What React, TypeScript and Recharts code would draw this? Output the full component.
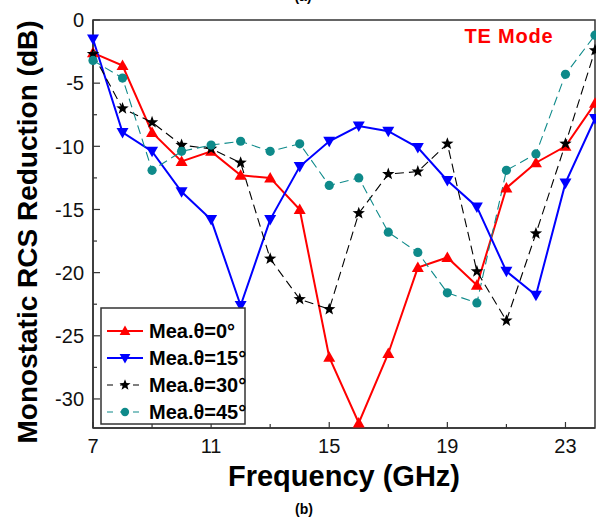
import React from 'react'
import { LineChart, Line, XAxis, YAxis, Legend, ReferenceArea } from 'recharts'

const freq = [7, 8, 9, 10, 11, 12, 13, 14, 15, 16, 17, 18, 19, 20, 21, 22, 23, 24]
const mea0 = [-2.6, -3.6, -8.9, -11.2, -10.4, -12.3, -12.5, -15.0, -26.7, -31.9, -26.4, -19.6, -18.8, -21.0, -13.3, -11.3, -10.0, -6.6]
const mea15 = [-1.5, -8.9, -10.4, -13.6, -15.8, -22.6, -15.8, -11.6, -9.6, -8.4, -8.8, -10.1, -12.7, -14.8, -19.9, -21.8, -12.9, -7.8]
const mea30 = [-2.7, -7.0, -8.1, -9.9, -10.2, -11.3, -18.9, -22.1, -22.9, -15.3, -12.2, -12.0, -9.8, -19.9, -23.8, -16.9, -9.8, -2.4]
const mea45 = [-3.2, -4.6, -11.9, -10.4, -9.9, -9.6, -10.4, -9.8, -13.1, -12.5, -16.8, -18.4, -21.6, -22.4, -11.9, -10.6, -4.3, -1.2]

const xTicks = [7, 9, 11, 13, 15, 17, 19, 21, 23]
const xLabels = [7, 11, 15, 19, 23]
const yTicks = [0, -2.5, -5, -7.5, -10, -12.5, -15, -17.5, -20, -22.5, -25, -27.5, -30]
const yLabels = [0, -5, -10, -15, -20, -25, -30]

const data = freq.map((f, i) => ({ f, m0: mea0[i], m15: mea15[i], m30: mea30[i], m45: mea45[i] }))

type Shape = 'up' | 'down' | 'star' | 'circle'

const series: { key: string; name: string; color: string; width: number; dash?: string; shape: Shape }[] = [
  { key: 'm0', name: 'Mea.\u03b8=0\u00b0', color: '#ff0000', width: 2, shape: 'up' },
  { key: 'm15', name: 'Mea.\u03b8=15\u00b0', color: '#0000ff', width: 2, shape: 'down' },
  { key: 'm30', name: 'Mea.\u03b8=30\u00b0', color: '#000000', width: 1.1, dash: '9 5', shape: 'star' },
  { key: 'm45', name: 'Mea.\u03b8=45\u00b0', color: '#0e8a8a', width: 1.1, dash: '9 5', shape: 'circle' },
]

const FONT = '"Liberation Sans", Arial, sans-serif'
const FRAME = '#333'

function Marker({ shape, cx, cy, color, s = 1 }: { shape: Shape; cx: number; cy: number; color: string; s?: number }) {
  if (cx == null || cy == null) return null
  if (shape === 'up') {
    const pts = `${cx},${cy - 6 * s} ${cx - 6 * s},${cy + 4.5 * s} ${cx + 6 * s},${cy + 4.5 * s}`
    return <polygon points={pts} fill={color} />
  }
  if (shape === 'down') {
    const pts = `${cx},${cy + 6 * s} ${cx - 6 * s},${cy - 4.5 * s} ${cx + 6 * s},${cy - 4.5 * s}`
    return <polygon points={pts} fill={color} />
  }
  if (shape === 'star') {
    const p: string[] = []
    for (let k = 0; k < 10; k++) {
      const r = (k % 2 === 0 ? 6.5 : 2.7) * s
      const a = -Math.PI / 2 + (k * Math.PI) / 5
      p.push(`${cx + r * Math.cos(a)},${cy + r * Math.sin(a)}`)
    }
    return <polygon points={p.join(' ')} fill={color} />
  }
  return <circle cx={cx} cy={cy} r={4.6 * s} fill={color} />
}

function XTick({ x, y, payload }: any) {
  const major = xLabels.includes(payload.value)
  return (
    <g>
      <line x1={x} x2={x} y1={y} y2={y - (major ? 6 : 4)} stroke={FRAME} strokeWidth={1.2} />
      {major && (
        <text x={x} y={y + 25} textAnchor="middle" fontSize={20} fontFamily={FONT} fill="#111">
          {payload.value}
        </text>
      )}
    </g>
  )
}

function YTick({ x, y, payload }: any) {
  const major = yLabels.includes(payload.value)
  return (
    <g>
      <line x1={x} x2={x + (major ? 7 : 4)} y1={y} y2={y} stroke={FRAME} strokeWidth={1.2} />
      {major && (
        <text x={x - 9} y={y} dy="0.36em" textAnchor="end" fontSize={20} fontFamily={FONT} fill="#111">
          {payload.value}
        </text>
      )}
    </g>
  )
}

function LegendBox() {
  return (
    <svg width={146} height={118} style={{ display: 'block' }}>
      <rect x={1} y={1} width={144} height={116} fill="#fff" stroke={FRAME} strokeWidth={1.5} />
      {series.map((s, i) => {
        const cy = 24 + i * 27
        return (
          <g key={s.key}>
            <line x1={7} x2={43} y1={cy} y2={cy} stroke={s.color} strokeWidth={s.width === 2 ? 2 : 1.1} strokeDasharray={s.dash ? '6 7' : undefined} />
            <Marker shape={s.shape} cx={25} cy={cy} color={s.color} s={0.9} />
            <text x={49} y={cy + 7} fontSize={20} fontWeight="bold" fontFamily={FONT} fill="#000">
              {s.name}
            </text>
          </g>
        )
      })}
    </svg>
  )
}

export default function App() {
  return (
    <div style={{ position: 'absolute', left: 0, top: 0, width: 596, height: 521, background: '#fff' }}>
      <LineChart width={596} height={521} data={data} margin={{ top: 20, right: 1, bottom: 0, left: 0 }}>
        <XAxis
          xAxisId="b"
          dataKey="f"
          type="number"
          domain={[7, 24]}
          ticks={xTicks}
          interval={0}
          height={93}
          axisLine={{ stroke: FRAME, strokeWidth: 1.5 }}
          tickLine={false}
          tickSize={0}
          tickMargin={0}
          tick={<XTick />}
          label={() => (
            <g>
              <text x={344} y={486} textAnchor="middle" fontSize={29} fontWeight="bold" fontFamily={FONT} fill="#000">
                Frequency (GHz)
              </text>
              <text x={304} y={514} textAnchor="middle" fontSize={14} fontWeight="bold" fontFamily={FONT} fill="#000">
                (b)
              </text>
            </g>
          )}
        />
        <YAxis
          yAxisId="l"
          type="number"
          domain={[-32.3, 0]}
          ticks={yTicks}
          interval={0}
          width={93}
          axisLine={{ stroke: FRAME, strokeWidth: 1.5 }}
          tickLine={false}
          tickSize={0}
          tickMargin={0}
          tick={<YTick />}
          label={() => (
            <g>
              <text x={37} y={232} transform="rotate(-90 37 232)" textAnchor="middle" fontSize={28} fontWeight="bold" fontFamily={FONT} fill="#000">
                Monostatic RCS Reduction (dB)
              </text>
              <text x={303} y={1} textAnchor="middle" fontSize={14} fontWeight="bold" fontFamily={FONT} fill="#000">
                (a)
              </text>
              <text x={509} y={43} textAnchor="middle" fontSize={20} fontWeight="bold" fontFamily={FONT} fill="#ff0000" letterSpacing={0.8}>
                TE Mode
              </text>
            </g>
          )}
        />
        <ReferenceArea
          xAxisId="b"
          yAxisId="l"
          x1={7}
          x2={24}
          y1={-32.3}
          y2={0}
          fill="none"
          fillOpacity={0}
          stroke={FRAME}
          strokeWidth={1.5}
          ifOverflow="visible"
        />
        <Legend
          layout="vertical"
          align="center"
          verticalAlign="middle"
          wrapperStyle={{ left: 100, top: 307, width: 146, height: 118 }}
          content={() => <LegendBox />}
        />
        {series.map((s) => (
          <Line
            key={s.key}
            xAxisId="b"
            yAxisId="l"
            dataKey={s.key}
            name={s.name}
            type="linear"
            stroke={s.color}
            strokeWidth={s.width}
            strokeDasharray={s.dash}
            isAnimationActive={false}
            activeDot={false}
            dot={(p: any) => <Marker key={`${s.key}-${p.index}`} shape={s.shape} cx={p.cx} cy={p.cy} color={s.color} />}
          />
        ))}
      </LineChart>
    </div>
  )
}
